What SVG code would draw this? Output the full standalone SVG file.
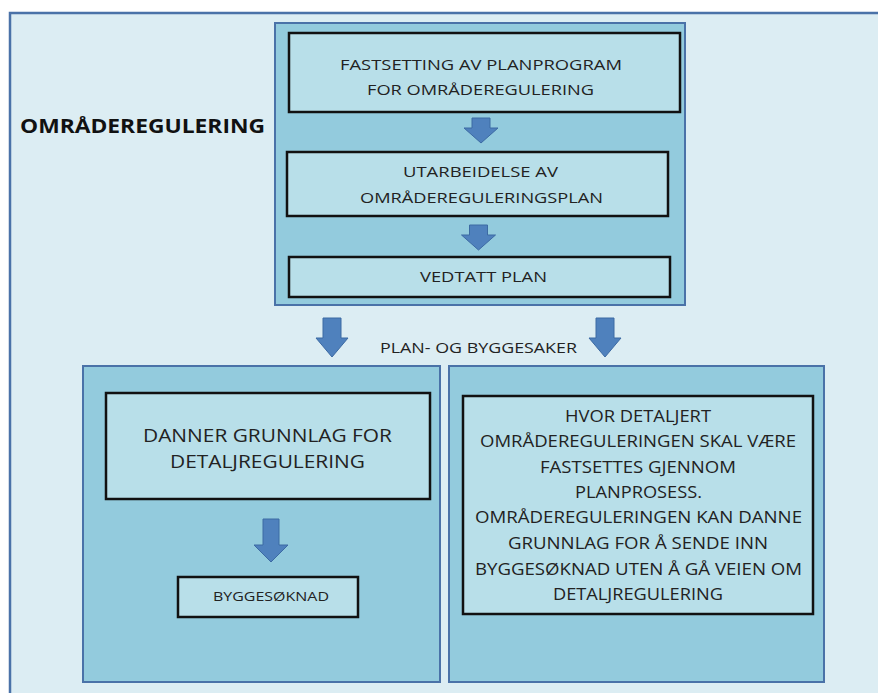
<svg xmlns="http://www.w3.org/2000/svg" width="878" height="693" viewBox="0 0 878 693">
<defs>
<style>
.outer{fill:#dcedf3;stroke:#4a72a8;stroke-width:2.5}
.panel{fill:#93cbdd;stroke:#4a72a8;stroke-width:2}
.box{fill:#b8dfe9;stroke:#111;stroke-width:2.5}
.t{font-family:"Open Sans","Liberation Sans",sans-serif;fill:#222;text-anchor:middle}
.s15{font-size:15px}
.s16{font-size:16px}
.s19{font-size:19px}
.arrow{fill:#4f81bd;stroke:#3c6aa3;stroke-width:1}
</style>
<path id="dn" d="M-9,0 H9 V20 H16 L0,39 L-16,20 H-9 Z"/>
<path id="dns" d="M-9,0 H9 V10 H17 L0,25 L-17,10 H-9 Z"/>
<path id="dnl" d="M-8,0 H8 V26 H17 L0,43 L-17,26 H-8 Z"/>
</defs>
<rect width="878" height="693" fill="#ffffff"/>
<rect class="outer" x="10" y="13" width="880" height="700"/>
<g id="title">
<text class="t" x="142.5" y="133" textLength="245" lengthAdjust="spacingAndGlyphs" style="font-size:20px;font-weight:bold;fill:#111">OMRÅDEREGULERING</text>
</g>
<g id="top-panel">
<rect class="panel" x="275" y="23" width="410" height="282"/>
</g>
<g id="fastsetting">
<rect class="box" x="289" y="33" width="391" height="79"/>
<text class="t s15" x="481" y="70" textLength="282" lengthAdjust="spacingAndGlyphs">FASTSETTING AV PLANPROGRAM</text>
<text class="t s15" x="480.5" y="95" textLength="227" lengthAdjust="spacingAndGlyphs">FOR OMRÅDEREGULERING</text>
</g>
<g id="utarbeidelse">
<rect class="box" x="287" y="152" width="381" height="64"/>
<text class="t s15" x="480.5" y="177" textLength="155" lengthAdjust="spacingAndGlyphs">UTARBEIDELSE  AV</text>
<text class="t s15" x="481.5" y="203" textLength="243" lengthAdjust="spacingAndGlyphs">OMRÅDEREGULERINGSPLAN</text>
</g>
<g id="vedtatt">
<rect class="box" x="289" y="257" width="381" height="40"/>
<text class="t s15" x="483.5" y="282" textLength="127" lengthAdjust="spacingAndGlyphs">VEDTATT  PLAN</text>
</g>
<g id="left-panel">
<rect class="panel" x="83" y="366" width="357" height="316"/>
</g>
<g id="danner">
<rect class="box" x="106" y="393" width="324" height="106"/>
<text class="t s19" x="267.5" y="442" textLength="249" lengthAdjust="spacingAndGlyphs">DANNER GRUNNLAG FOR</text>
<text class="t s19" x="267.5" y="468" textLength="195" lengthAdjust="spacingAndGlyphs">DETALJREGULERING</text>
</g>
<g id="byggesoknad">
<rect class="box" x="178" y="577" width="180" height="40"/>
<text class="t" x="271" y="601" textLength="116" lengthAdjust="spacingAndGlyphs" style="font-size:13px">BYGGESØKNAD</text>
</g>
<g id="right-panel">
<rect class="panel" x="449" y="366" width="375" height="316"/>
</g>
<g id="hvor">
<rect class="box" x="463" y="396" width="350" height="218"/>
<text class="t s16" x="638" y="422" textLength="146" lengthAdjust="spacingAndGlyphs">HVOR DETALJERT</text>
<text class="t s16" x="638" y="447" textLength="316" lengthAdjust="spacingAndGlyphs">OMRÅDEREGULERINGEN  SKAL VÆRE</text>
<text class="t s16" x="638" y="473" textLength="196" lengthAdjust="spacingAndGlyphs">FASTSETTES GJENNOM</text>
<text class="t s16" x="638.5" y="498" textLength="127" lengthAdjust="spacingAndGlyphs">PLANPROSESS.</text>
<text class="t s16" x="638.5" y="523" textLength="327" lengthAdjust="spacingAndGlyphs">OMRÅDEREGULERINGEN  KAN DANNE</text>
<text class="t s16" x="638" y="549" textLength="260" lengthAdjust="spacingAndGlyphs">GRUNNLAG  FOR Å SENDE INN</text>
<text class="t s16" x="638.5" y="575" textLength="327" lengthAdjust="spacingAndGlyphs">BYGGESØKNAD  UTEN Å GÅ VEIEN OM</text>
<text class="t s16" x="638" y="600" textLength="170" lengthAdjust="spacingAndGlyphs">DETALJREGULERING</text>
</g>
<g id="connectors">
<use href="#dns" class="arrow" x="481" y="118"/>
<use href="#dns" class="arrow" x="478.5" y="225"/>
<use href="#dn" class="arrow" x="332" y="318"/>
<use href="#dn" class="arrow" x="605" y="318"/>
<use href="#dnl" class="arrow" x="271" y="519"/>
<text class="t s15" x="478.5" y="353" textLength="197" lengthAdjust="spacingAndGlyphs">PLAN- OG BYGGESAKER</text>
</g>
</svg>
